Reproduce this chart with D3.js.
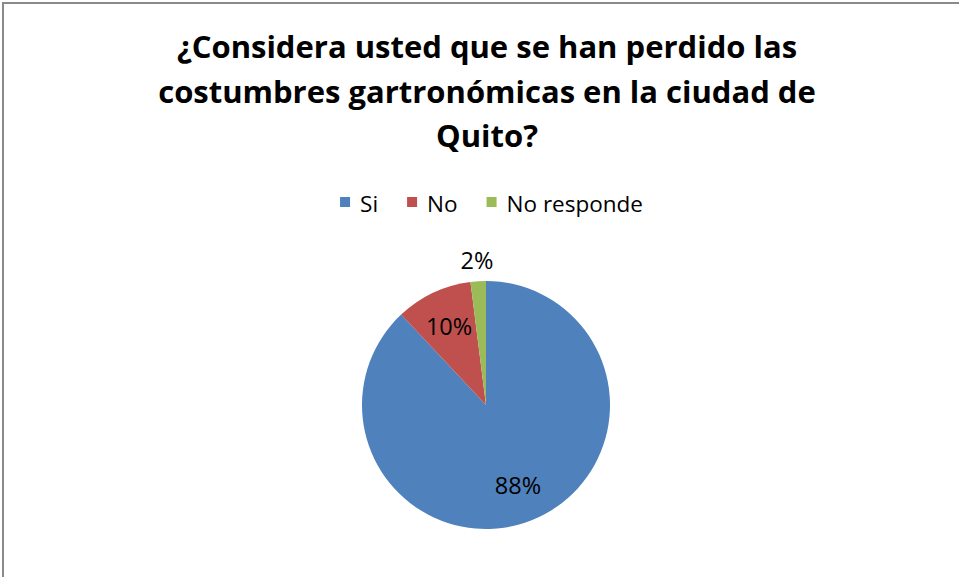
<!DOCTYPE html>
<html>
<head>
<meta charset="utf-8">
<script src="https://cdn.jsdelivr.net/npm/d3@7"></script>
<style>
  body { margin: 0; background: #fff; }
  svg { display: block; }
</style>
</head>
<body>
<div id="vis"></div>
<script>
// chart values
var titleLines = ['¿Considera usted que se han perdido las',
                  'costumbres gartronómicas en la ciudad de',
                  'Quito?'];
var categories = ['Si', 'No', 'No responde'];
var values = [88, 10, 2];
var colors = ['#4F81BD', '#C0504D', '#9BBB59'];

var width = 959;
var height = 577;
var cx = 486, cy = 405, radius = 124;
var font = '"Open Sans", "Liberation Sans", sans-serif';

var svg = d3.select('#vis').append('svg')
  .attr('width', width)
  .attr('height', height);

// chart frame (only top and left edges are in view)
svg.append('rect')
  .attr('x', 3).attr('y', 3)
  .attr('width', width + 20).attr('height', height + 20)
  .attr('fill', '#fff')
  .attr('stroke', '#8a8a8a')
  .attr('stroke-width', 2);

// title
svg.append('text')
  .attr('text-anchor', 'middle')
  .attr('font-family', font)
  .attr('font-weight', 'bold')
  .attr('font-size', 31)
  .attr('fill', '#000')
  .selectAll('tspan')
  .data(titleLines)
  .enter().append('tspan')
  .attr('x', 487)
  .attr('y', function (d, i) { return 58 + i * 44.5; })
  .text(function (d) { return d; });

// legend, laid out left to right and then centred
var legend = svg.append('g').attr('font-family', font).attr('font-size', 22.5);
var items = legend.selectAll('g')
  .data(categories)
  .enter().append('g');
items.append('rect')
  .attr('width', 10).attr('height', 10)
  .attr('y', 197)
  .attr('fill', function (d, i) { return colors[i]; });
items.append('text')
  .attr('x', 20)
  .attr('y', 212)
  .attr('fill', '#000')
  .text(function (d) { return d; });

var xPos = 0;
items.each(function () {
  var g = d3.select(this);
  g.attr('transform', 'translate(' + xPos + ',0)');
  xPos += 20 + g.select('text').node().getComputedTextLength() + 29;
});
var legendWidth = xPos - 29;
legend.attr('transform', 'translate(' + (491.5 - legendWidth / 2) + ',0)');

// pie
var pie = d3.pie().sort(null).value(function (d) { return d; });
var arcs = pie(values);
var arc = d3.arc().innerRadius(0).outerRadius(radius);
var inArc = d3.arc().innerRadius(radius * 0.7).outerRadius(radius * 0.7);
var outArc = d3.arc().innerRadius(radius + 21).outerRadius(radius + 21);

var g = svg.append('g').attr('transform', 'translate(' + cx + ',' + cy + ')');

g.selectAll('path')
  .data(arcs)
  .enter().append('path')
  .attr('d', arc)
  .attr('fill', function (d, i) { return colors[i]; });

var total = d3.sum(values);
g.selectAll('text')
  .data(arcs)
  .enter().append('text')
  .attr('transform', function (d) {
    var small = d.data / total < 0.05;
    return 'translate(' + (small ? outArc : inArc).centroid(d) + ')';
  })
  .attr('text-anchor', 'middle')
  .attr('dy', '0.35em')
  .attr('font-family', font)
  .attr('font-size', 23.5)
  .attr('fill', '#000')
  .text(function (d) { return d.data + '%'; });
</script>
</body>
</html>
